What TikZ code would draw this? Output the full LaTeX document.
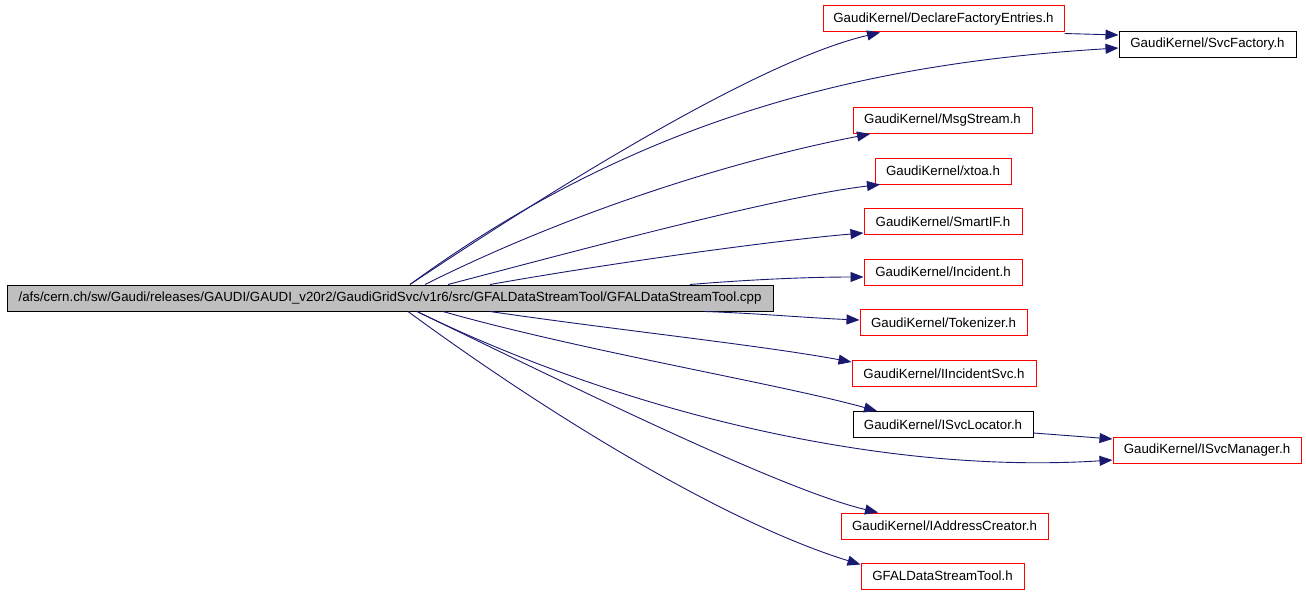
\documentclass[tikz,border=0pt]{standalone}
\usepackage{fontspec}
\setmainfont{Liberation Sans}
\usetikzlibrary{arrows.meta}

\definecolor{edgeblue}{HTML}{191970}
\definecolor{boxgray}{HTML}{BFBFBF}

\tikzset{
	hdr/.style={draw=red, line width=1pt, minimum height=26pt, inner sep=0pt, font=\fontsize{13.3pt}{16pt}\selectfont},
	hdrdoc/.style={hdr, draw=black},
	dep/.style={draw=edgeblue, line width=0.9pt, -{Triangle[length=13pt,width=10pt]}}
}

\begin{document}
\begin{tikzpicture}[x=1pt, y=-1pt]
		\useasboundingbox (0,0) rectangle (1306,594);

		\draw (390,298) node[hdrdoc, fill=boxgray, minimum width=766pt] (main) {/afs/cern.ch/sw/Gaudi/releases/GAUDI/GAUDI\_v20r2/GaudiGridSvc/v1r6/src/GFALDataStreamTool/GFALDataStreamTool.cpp};

		\draw (943.5,19) node[hdr, minimum width=241pt] (declare) {GaudiKernel/DeclareFactoryEntries.h};
		\draw (1207.5,44.5) node[hdrdoc, minimum width=177pt] (svcfactory) {GaudiKernel/SvcFactory.h};
		\draw (942.5,120.5) node[hdr, minimum width=179pt] (msgstream) {GaudiKernel/MsgStream.h};
		\draw (943,171) node[hdr, minimum width=136pt] (xtoa) {GaudiKernel/xtoa.h};
		\draw (943,221.5) node[hdr, minimum width=158pt] (smartif) {GaudiKernel/SmartIF.h};
		\draw (943,272) node[hdr, minimum width=158pt] (incident) {GaudiKernel/Incident.h};
		\draw (943.5,322.5) node[hdr, minimum width=167pt] (tokenizer) {GaudiKernel/Tokenizer.h};
		\draw (944,373.5) node[hdr, minimum width=184pt] (iincidentsvc) {GaudiKernel/IIncidentSvc.h};
		\draw (943,424.5) node[hdrdoc, minimum width=180pt] (isvclocator) {GaudiKernel/ISvcLocator.h};
		\draw (1207,450) node[hdr, minimum width=188pt] (isvcmanager) {GaudiKernel/ISvcManager.h};
		\draw (944.5,526) node[hdr, minimum width=207pt] (iaddresscreator) {GaudiKernel/IAddressCreator.h};
		\draw (942.5,576) node[hdr, minimum width=163pt] (gfaltool) {GFALDataStreamTool.h};

		\draw[dep] ([xshift=20pt]main.north) .. controls +(150,-100) and +(-120,28) .. ([xshift=-63.5pt]declare.south);
		\draw[dep] ([xshift=20pt]main.north) .. controls +(230,-168) and +(-250,15) .. ([yshift=-3.5pt]svcfactory.west);
		\draw[dep] ([xshift=35pt]main.north) .. controls +(150,-75) and +(-130,25) .. ([xshift=-72.5pt]msgstream.south);
		\draw[dep] ([xshift=58pt]main.north) .. controls +(152,-40) and +(-100,12) .. ([xshift=-63pt]xtoa.south);
		\draw[dep] ([xshift=100pt]main.north) .. controls +(130,-23) and +(-84,7) .. ([yshift=-11.5pt]smartif.west);
		\draw[dep] ([xshift=300pt]main.north) .. controls +(60,-5) and +(-54,0) .. ([yshift=-5pt]incident.west);

		\draw[dep] ([xshift=315pt]main.south) .. controls +(55,2) and +(-50,-2) .. ([yshift=2.5pt]tokenizer.west);
		\draw[dep] ([xshift=100pt]main.south) .. controls +(130,19) and +(-92,-17) .. ([yshift=-2pt]iincidentsvc.north west);
		\draw[dep] ([xshift=53pt]main.south) .. controls +(137,39) and +(-97,-27) .. ([xshift=-66pt]isvclocator.north);
		\draw[dep] ([xshift=27pt]main.south) .. controls +(203,99) and +(-233,15) .. ([yshift=-10pt]isvcmanager.west);
		\draw[dep] ([xshift=27pt]main.south) .. controls +(143,69) and +(-98,-23) .. ([xshift=-66.5pt]iaddresscreator.north);
		\draw[dep] ([xshift=18pt]main.south) .. controls +(150,110) and +(-130,-40) .. ([yshift=-2pt]gfaltool.north west);

		\draw[dep] ([yshift=-1pt]declare.south east) -- ([yshift=9.5pt]svcfactory.west);
		\draw[dep] ([yshift=-8.5pt]isvclocator.east) -- ([yshift=11pt]isvcmanager.west);

	\end{tikzpicture}
\end{document}
